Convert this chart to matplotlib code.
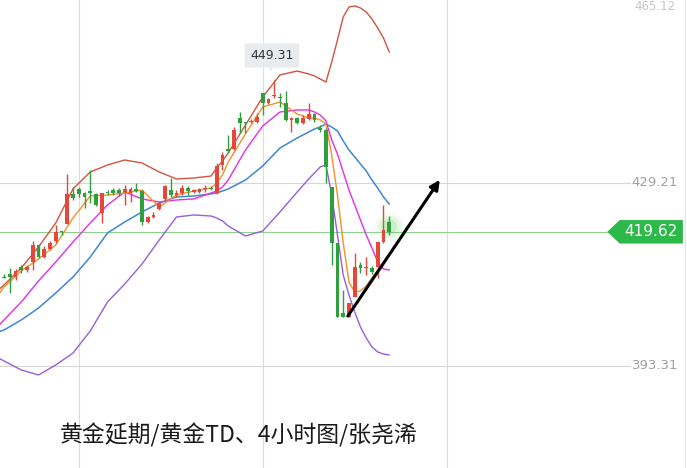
import numpy as np
import matplotlib
matplotlib.use("Agg")
import matplotlib.pyplot as plt
import matplotlib.transforms as mtransforms
from matplotlib.patches import Polygon

# candle data (gold TD, 4h), red = up, green = down
opens = [410.66, 411.35, 410.76, 412.72, 412.13, 413.70, 417.04, 414.68, 416.25, 417.82,
         419.78, 421.15, 427.04, 428.02, 427.23, 427.62, 427.04, 423.31, 427.43, 427.82,
         427.82, 427.43, 427.23, 428.02, 427.62, 421.55, 422.53, 424.09, 426.06, 427.82,
         426.84, 427.23, 428.21, 427.43, 427.43, 428.02, 428.21, 427.23, 432.72, 435.86,
         435.86, 441.94, 441.15, 441.15, 441.15, 446.84, 444.88, 446.25, 446.06, 444.88,
         441.55, 441.94, 440.96, 441.74, 442.72, 439.98, 439.58, 428.41, 417.43, 403.70,
         402.92, 406.84, 413.11, 412.53, 412.53, 412.72, 417.62, 421.55]
highs = [411.35, 412.53, 412.33, 413.11, 413.11, 417.82, 417.23, 416.84, 417.82, 420.96,
         419.78, 430.96, 428.41, 428.41, 427.43, 431.74, 427.23, 427.23, 427.82, 428.21,
         428.21, 428.80, 428.41, 429.19, 427.82, 422.72, 423.51, 425.47, 428.80, 430.17,
         427.82, 428.80, 428.60, 428.02, 428.21, 428.80, 428.60, 433.11, 435.27, 438.60,
         440.17, 443.11, 441.15, 441.74, 442.92, 446.84, 445.86, 449.31, 446.84, 447.23,
         442.13, 442.13, 442.53, 444.88, 442.92, 440.56, 439.98, 428.41, 417.43, 408.21,
         405.66, 415.47, 413.70, 414.68, 412.92, 417.62, 424.88, 422.72]
lows = [410.50, 407.62, 410.17, 411.55, 411.74, 412.13, 414.49, 414.49, 416.06, 417.43,
        419.00, 421.15, 425.86, 426.45, 424.29, 425.27, 424.68, 421.35, 426.84, 426.84,
        426.64, 424.88, 425.47, 427.43, 420.96, 421.35, 422.33, 423.90, 425.86, 426.45,
        426.45, 426.84, 426.84, 427.23, 427.23, 427.43, 427.82, 427.04, 431.74, 435.07,
        435.66, 439.00, 439.00, 440.96, 440.96, 442.53, 444.68, 445.86, 444.09, 441.35,
        439.19, 440.76, 440.76, 441.55, 441.15, 439.19, 429.19, 413.11, 402.92, 402.92,
        402.92, 406.84, 411.55, 411.15, 411.35, 410.56, 417.43, 419.00]
closes = [410.56, 410.76, 411.94, 412.13, 412.72, 417.04, 414.68, 416.25, 417.43, 419.58,
          419.58, 427.04, 426.25, 427.04, 426.45, 427.23, 424.88, 427.23, 427.23, 427.23,
          427.23, 428.02, 428.02, 427.62, 421.55, 422.53, 422.92, 425.27, 428.60, 426.84,
          427.23, 428.21, 427.62, 427.82, 428.02, 428.21, 428.02, 432.53, 434.68, 435.47,
          439.58, 440.96, 440.96, 441.35, 442.13, 444.88, 445.66, 446.45, 445.86, 441.55,
          441.94, 440.96, 441.94, 442.72, 441.55, 439.58, 432.33, 417.43, 402.92, 402.92,
          405.66, 412.72, 412.53, 412.72, 411.74, 417.62, 419.98, 419.62]

# indicator lines at these bar numbers
line_idx = [-1, 0, 3, 6, 9, 12, 15, 18, 21, 24, 27, 30, 33, 36, 37, 38, 39, 42, 45, 48,
            51, 53, 54, 55, 56, 57, 58, 59, 60, 61, 62, 63, 64, 65, 66, 67]
boll_up = [408.21, 409.19, 412.53, 416.64, 421.35, 428.02, 431.35, 432.72, 433.70, 433.11,
           431.35, 429.98, 430.17, 430.56, 432.13, 433.51, 435.07, 440.56, 446.06, 450.37,
           451.15, 450.56, 450.17, 449.58, 449.00, 452.92, 457.23, 461.74, 463.70, 463.90,
           463.51, 462.72, 461.35, 459.58, 457.62, 454.88]
boll_mid = [399.98, 400.37, 402.33, 404.68, 407.62, 410.76, 414.68, 419.39, 421.55, 423.51,
            425.27, 426.45, 426.64, 427.04, 427.23, 427.62, 428.02, 429.78, 432.53, 436.06,
            438.02, 439.19, 439.78, 440.17, 440.76, 440.17, 439.39, 437.43, 435.66, 434.29,
            432.92, 431.55, 429.78, 428.21, 426.45, 425.07]
boll_dn = [394.88, 394.29, 392.53, 391.55, 393.51, 395.86, 400.17, 405.86, 409.39, 413.31,
           418.02, 422.53, 422.92, 422.72, 422.33, 421.74, 420.76, 418.80, 419.78, 423.51,
           427.43, 429.98, 431.15, 432.33, 432.72, 426.84, 419.00, 411.15, 407.23, 403.90,
           400.96, 398.80, 397.04, 396.06, 395.66, 395.47]
ma5 = [407.23, 408.80, 411.94, 414.29, 417.04, 422.33, 426.64, 426.84, 427.23, 427.82,
       424.49, 426.84, 427.62, 428.21, 429.19, 430.76, 433.31, 438.80, 444.09, 445.07,
       442.72, 441.94, 441.94, 441.55, 440.76, 434.68, 426.84, 417.43, 409.78, 407.82,
       408.02, 409.00, 410.56, 412.13, 413.70, 415.07]
ma10 = [401.15, 402.33, 405.86, 409.98, 413.70, 417.62, 421.35, 424.88, 427.43, 426.06,
        425.47, 425.86, 426.06, 427.23, 427.62, 428.41, 429.78, 435.66, 440.37, 443.11,
        443.51, 443.51, 443.11, 442.53, 441.35, 437.62, 434.88, 431.35, 427.82, 424.88,
        421.94, 419.00, 416.45, 413.70, 412.33, 412.13]

last_price = 419.62
high_price = 449.31
high_bar = 47
grid_prices = [465.12, 429.21, 393.31]
day_breaks = [13, 45, 77]
arrow_from = (59.8, 403.1)
arrow_to = (75.8, 429.8)
caption = "黄金延期/黄金TD、4小时图/张尧浠"

UP = "#e5473a"
DOWN = "#2f9e3c"

fig = plt.figure(figsize=(6.87, 4.68), dpi=100)
ax = fig.add_axes([0, 0, 1, 1])
ax.set_xlim(-0.7, 118.8)
ax.set_ylim(373.31, 465.07)
ax.axis("off")

# grid
for x in day_breaks:
    ax.axvline(x, color="#dcdcdc", lw=0.8, zorder=0)
ax.axvline(118.4, color="#e6e6e6", lw=0.8, zorder=0)
for p in grid_prices[1:]:
    ax.plot([-0.7, 108.9], [p, p], color="#d6d6d6", lw=0.8, zorder=0)
    ax.text(113.2, p, f"{p:.2f}", color="#a0a0a0", fontsize=9.5, ha="center", va="center")
ax.text(113.2, 465.0, f"{grid_prices[0]:.2f}", color="#c4c4c4", fontsize=8.5,
        ha="center", va="top")

# current price line + tag
ax.plot([-0.7, 105.5], [last_price, last_price], color="#8fd18f", lw=0.8, zorder=0)
blend = mtransforms.blended_transform_factory(ax.transAxes, ax.transData)
h = 2.3
tag = Polygon([(0.884, last_price), (0.902, last_price + h), (0.994, last_price + h),
               (0.994, last_price - h), (0.902, last_price - h)],
              closed=True, transform=blend, facecolor="#2db84a", edgecolor="none", zorder=5)
ax.add_patch(tag)
ax.text(0.948, last_price, f"{last_price:.2f}", transform=blend, color="white",
        fontsize=11, ha="center", va="center", zorder=6)

# indicator lines
ax.plot(line_idx, boll_up, color="#d2533f", lw=1.0, zorder=2)
ax.plot(line_idx, boll_mid, color="#3d86d8", lw=1.1, zorder=2)
ax.plot(line_idx, boll_dn, color="#9a5ddb", lw=1.0, zorder=2)
ax.plot(line_idx, ma10, color="#e52ee0", lw=1.0, zorder=2)
ax.plot(line_idx, ma5, color="#f2922a", lw=1.0, zorder=2)

# candles
o = np.array(opens)
c = np.array(closes)
x = np.arange(len(o))
colors = [UP if cc >= oo else DOWN for oo, cc in zip(o, c)]
ax.vlines(x, lows, highs, colors=colors, lw=1.0, zorder=3)
body = np.where(np.abs(c - o) < 0.15, 0.15, np.abs(c - o))
ax.bar(x, body, bottom=np.minimum(o, c), width=0.65, color=colors, zorder=4)

# soft glow on the last bar
for s, a in [(420, 0.06), (250, 0.09), (120, 0.14)]:
    ax.scatter([x[-1]], [closes[-1] + 1.0], s=s, color="#3ec43e", alpha=a,
               edgecolors="none", zorder=3)

# high marker label
ax.text(high_bar - 0.4, 454.2, f"{high_price:.2f}", color="#333333", fontsize=9,
        ha="center", va="center", zorder=6,
        bbox=dict(boxstyle="round,pad=0.45,rounding_size=0.15", facecolor="#e9ecef",
                  edgecolor="none"))
ax.add_patch(Polygon([(high_bar - 1.1, 452.3), (high_bar + 0.1, 452.3),
                      (high_bar - 0.6, 451.1)], closed=True,
                     facecolor="#e9ecef", edgecolor="none", zorder=5))

# arrow
ax.annotate("", xy=arrow_to, xytext=arrow_from,
            arrowprops=dict(arrowstyle="-|>", color="black", lw=2.2,
                            mutation_scale=14, shrinkA=0, shrinkB=0),
            zorder=7)

fig.text(0.087, 0.07, caption, fontsize=16.5, color="#1a1a1a", va="center",
         family=["Noto Sans CJK SC", "DejaVu Sans"])

fig.savefig("out.png", dpi=100)
